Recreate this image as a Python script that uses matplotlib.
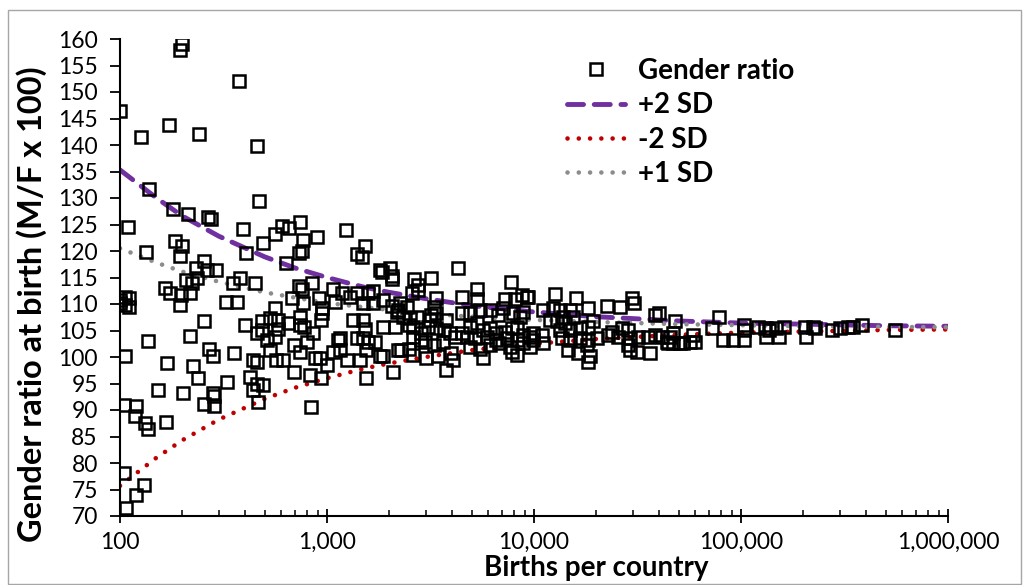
import numpy as np
import matplotlib.pyplot as plt
from matplotlib.ticker import FuncFormatter, LogLocator, NullFormatter
from matplotlib.patches import Rectangle

plt.rcParams['font.family'] = ['Lato', 'DejaVu Sans']

# births per country / gender ratio
births = [
    199, 195, 377, 100, 172, 127, 242, 457, 469, 138, 180, 212, 267, 274, 109, 391,
    184, 199, 133, 195, 406, 255, 234, 262, 291,
    492, 563, 604, 657, 740, 762, 890, 734, 754, 636, 1230, 1390, 1520, 1480, 1810,
    2010, 2050,
    448, 733, 754, 850, 675, 762, 910, 941, 941, 935, 560, 1066, 1180, 1290, 1400,
    1580, 1670, 1090, 1500, 1670, 1870, 2050, 2200, 2050, 1840,
    483, 530, 582, 650, 483, 457, 511, 560, 582, 530, 570, 614, 457, 440,
    740, 740, 770, 690, 740, 800, 860, 875, 925, 1000, 690, 830, 940, 840,
    425, 457, 493, 440, 465,
    1130, 1150, 1070, 1250, 1440, 1340, 1500, 1390, 1500, 1580, 1700, 1870, 1550,
    1150, 1550, 2090, 2200, 1870, 1800, 1520,
    100, 106, 110, 106, 110, 100, 137, 106, 104, 120, 118, 132, 137, 104, 130, 119,
    107, 168, 153, 167, 202, 218, 226, 237, 254, 270, 280, 254, 280, 285, 285, 327,
    355, 400,
    165, 174, 197, 196, 218, 208, 222, 235, 325, 366, 352, 380,
    4310, 3180, 2620, 2760, 2760, 2560, 7720, 5280, 5320, 4470, 7240, 8110, 8750,
    9250, 3370, 3300, 3370, 3180, 3140, 2240, 2430, 2170, 2340, 2530, 2730, 2480,
    2120, 2610, 2830, 2610, 2480, 2270, 2610, 2830, 3760, 3020, 3430, 3990, 4070,
    5680, 8270, 7830, 2960, 3300, 3620, 3910, 4130, 4470, 3080, 3370, 3760, 3690,
    4470, 4900, 5480, 6120, 6700, 4900, 5280, 5680, 6120, 6580, 7240, 7830, 4720,
    5180, 5900, 6580, 7380, 8270, 8890, 9570, 4900, 5480, 6120, 6810, 7660, 8890,
    9570, 8270, 8570, 8890, 9400, 7100, 7940,
    12600, 15900, 18300, 22500, 26100, 30500, 40300, 47900, 11100, 12400, 13400,
    14900, 13800, 15500, 11900, 12900, 14100, 13400, 14900, 16700, 18300, 19300,
    9920, 10900, 9920, 11100, 13600, 14900, 16700, 18300, 20100, 22900, 25500,
    28600, 29100, 31900, 35600, 38400, 41400, 45400, 14600, 16400, 18000, 18700,
    18300, 28600, 31300, 36300, 29100, 44500, 47000, 23700, 26500,
    78500, 72300, 47000, 52700, 58900, 60100, 82000, 91900, 103000, 103000, 103000,
    121000, 130000, 137000, 148000, 162000, 132000, 153000, 203000, 227000, 207000,
    223000, 274000, 301000, 330000, 349000, 383000, 555000, 43800, 50700, 56800,
    38400, 29700,
]
ratio = [
    159.0, 158.0, 152.0, 146.4, 143.7, 141.6, 142.0, 139.9, 129.5, 131.7, 127.9,
    127.0, 126.5, 126.0, 124.6, 124.2, 121.9, 121.0, 119.8, 119.1, 119.7, 118.1,
    116.7, 116.4, 116.5,
    121.5, 123.3, 124.7, 124.4, 125.5, 122.0, 122.6, 119.6, 120.0, 117.8, 123.9,
    119.4, 120.9, 118.8, 116.4, 116.7, 115.2,
    113.9, 113.4, 112.8, 113.9, 111.1, 110.1, 111.1, 109.2, 108.3, 106.9, 109.3,
    112.8, 112.0, 111.3, 112.0, 112.0, 112.5, 110.4, 110.1, 110.1, 110.8, 109.6,
    108.9, 114.8, 116.1,
    106.7, 107.3, 107.0, 106.5, 105.1, 104.5, 103.2, 103.8, 105.2, 101.3, 99.4,
    99.4, 99.1, 99.4,
    107.6, 106.0, 105.7, 102.3, 101.0, 102.9, 104.5, 99.8, 99.8, 98.5, 97.2, 96.6,
    96.0, 90.6,
    96.3, 95.0, 94.7, 93.8, 91.6,
    103.2, 101.3, 101.0, 99.4, 99.4, 107.0, 107.0, 103.5, 103.5, 102.9, 102.9,
    105.7, 101.3, 103.5, 96.0, 97.2, 101.3, 100.2, 100.1, 105.2,
    110.8, 111.4, 111.1, 109.8, 109.5, 110.1, 103.0, 100.1, 90.9, 90.8, 88.9, 87.5,
    86.5, 78.1, 75.8, 74.0, 71.6, 98.8, 93.8, 87.8, 93.3, 103.9, 98.3, 96.0, 106.7,
    101.6, 100.1, 91.1, 93.3, 92.6, 90.8, 95.3, 100.7, 106.0,
    113.0, 112.1, 111.7, 109.8, 112.0, 114.5, 114.0, 115.0, 110.4, 110.4, 113.9,
    115.0,
    116.7, 115.0, 114.8, 113.6, 112.6, 112.1, 114.2, 112.8, 110.9, 111.3, 110.9,
    110.9, 111.7, 111.3, 111.1, 109.5, 108.3, 107.9, 107.0, 110.1, 109.5, 108.5,
    107.6, 107.3, 107.6, 106.0, 105.7, 105.7, 104.5, 103.8, 101.6, 101.3, 100.4,
    103.2, 97.5, 99.8, 100.1, 100.7, 99.4, 99.8, 100.4, 101.0, 102.9, 102.3, 102.9,
    104.5, 103.8, 104.5, 105.7, 105.4, 107.0, 105.1, 108.3, 108.3, 108.9, 108.9,
    107.9, 105.7, 106.4, 105.1, 105.4, 104.5, 104.8, 105.4, 103.8, 103.5, 103.8,
    103.2, 103.5, 103.2, 104.2, 103.8, 101.9, 101.6, 102.3, 102.6, 101.9, 102.6,
    101.9, 105.7, 107.6, 108.5, 111.4, 109.2, 108.3,
    111.8, 111.2, 109.2, 109.6, 109.5, 110.1, 108.3, 106.8, 108.9, 109.2, 108.9,
    108.9, 107.6, 107.6, 107.0, 106.7, 106.4, 105.1, 105.1, 105.4, 105.7, 106.7,
    104.5, 104.2, 103.2, 102.6, 103.5, 103.2, 103.5, 103.2, 103.5, 104.2, 103.8,
    105.1, 103.5, 103.7, 103.7, 104.2, 103.7, 103.8, 101.3, 100.7, 102.3, 100.1,
    99.1, 102.3, 101.0, 100.7, 101.3, 102.6, 102.6, 104.8, 105.4,
    107.6, 105.4, 104.5, 102.6, 104.2, 102.9, 103.2, 103.2, 103.2, 105.1, 106.0,
    105.7, 105.4, 105.1, 105.4, 105.7, 103.8, 103.8, 105.7, 105.4, 103.8, 105.7,
    105.1, 105.4, 105.7, 105.7, 106.0, 105.1, 102.9, 102.6, 102.9, 108.0, 111.1,
]

# SD envelope curves, read at a few x positions
curve_x = [100, 150, 200, 300, 500, 700, 1000, 1500, 2000, 3000, 5000, 7000,
           10000, 20000, 50000, 100000, 200000, 500000, 1000000]
plus2 = [135.3, 130.0, 126.6, 122.8, 118.9, 116.8, 115.0, 113.2, 112.2, 111.0,
         109.7, 109.1, 108.5, 107.6, 106.8, 106.4, 106.2, 105.9, 105.8]
minus2 = [75.7, 81.0, 84.3, 88.2, 92.1, 94.2, 96.0, 97.8, 98.8, 100.0, 101.3,
          101.9, 102.5, 103.4, 104.2, 104.6, 104.8, 105.1, 105.2]
plus1 = [120.5, 117.8, 116.1, 114.2, 112.2, 111.2, 110.2, 109.4, 108.9, 108.2,
         107.6, 107.3, 107.0, 106.6, 106.2, 106.0, 105.8, 105.7, 105.6]

fig = plt.figure(figsize=(10.34, 5.85), dpi=100)
ax = fig.add_axes([120 / 1034, 1 - 516 / 585, (948 - 120) / 1034, (516 - 39) / 585])

# outer chart border
fig.patches.append(Rectangle((8 / 1034, 1 / 585), 1013 / 1034, 574 / 585,
                             transform=fig.transFigure, fill=False,
                             edgecolor='#a6a6a6', lw=1))

ax.plot(births, ratio, ls='none', marker='s', ms=8, mfc='none', mec='black',
        mew=1.8, label='Gender ratio', zorder=3)
ax.plot(curve_x, plus2, color='#7030A0', lw=3.5, ls=(0, (3.3, 2.2)),
        dash_capstyle='round', label='+2 SD', zorder=2)
ax.plot(curve_x, minus2, color='#C00000', lw=3.3, ls=(0, (0.01, 2.45)),
        dash_capstyle='round', label='-2 SD', zorder=2)
ax.plot(curve_x, plus1, color='#8c8c8c', lw=3.3, ls=(0, (0.01, 2.45)),
        dash_capstyle='round', label='+1 SD', zorder=2)

ax.set_xscale('log')
ax.set_xlim(100, 1000000)
ax.set_ylim(70, 160)
ax.set_yticks(np.arange(70, 161, 5))
ax.xaxis.set_major_locator(LogLocator(base=10))
ax.xaxis.set_minor_locator(LogLocator(base=10, subs=np.arange(2, 10)))
ax.xaxis.set_minor_formatter(NullFormatter())
ax.xaxis.set_major_formatter(FuncFormatter(lambda v, p: f'{int(round(v)):,}'))

for s in ['top', 'right']:
    ax.spines[s].set_visible(False)
for s in ['left', 'bottom']:
    ax.spines[s].set_linewidth(1.5)

ax.tick_params(axis='y', direction='out', length=7, width=1.3, labelsize=16.5, pad=9)
ax.tick_params(axis='x', which='major', direction='inout', length=9.5, width=1.3,
               labelsize=16.5, pad=7)
ax.tick_params(axis='x', which='minor', direction='in', length=4.5, width=1.1)

fig.text(596 / 1034, 1 - 568 / 585, 'Births per country', ha='center', va='center',
         fontsize=20, fontweight='bold')
fig.text(32 / 1034, 1 - 304 / 585, 'Gender ratio at birth (M/F x 100)', ha='center',
         va='center', rotation=90, fontsize=23.4, fontweight='bold')

leg = ax.legend(loc='upper left', bbox_to_anchor=(567 / 1034, 1 - 58 / 585),
                bbox_transform=fig.transFigure, frameon=False, borderpad=0,
                borderaxespad=0, handlelength=2.1, handletextpad=0.45,
                labelspacing=0.3, prop={'size': 20, 'weight': 'bold'})

fig.savefig('out.png', dpi=100)
